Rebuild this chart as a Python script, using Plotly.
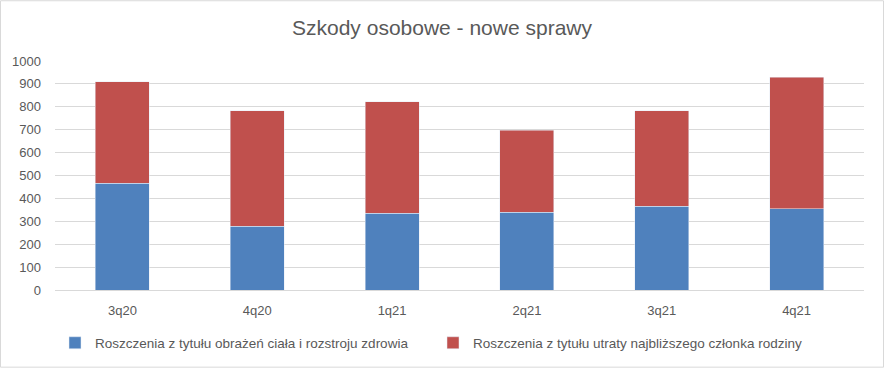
import plotly.graph_objects as go

categories = ["3q20", "4q20", "1q21", "2q21", "3q21", "4q21"]
injury = [467, 278, 336, 339, 365, 354]
family = [442, 505, 486, 358, 418, 576]
series_names = [
    "Roszczenia z tytułu obrażeń ciała i rozstroju zdrowia",
    "Roszczenia z tytułu utraty najbliższego członka rodziny",
]
tick_vals = list(range(0, 1001, 100))

fig = go.Figure()
fig.add_trace(go.Bar(x=categories, y=injury, name=series_names[0], marker_color="#4F81BD"))
fig.add_trace(go.Bar(x=categories, y=family, name=series_names[1], marker_color="#C0504D"))

font_fam = "Liberation Sans, Arial, sans-serif"
fig.update_layout(
    barmode="stack",
    bargap=0.6,
    width=884,
    height=369,
    margin=dict(l=55, r=20, t=61, b=78),
    paper_bgcolor="white",
    plot_bgcolor="white",
    font=dict(family=font_fam, color="#595959", size=13),
    title=dict(text="Szkody osobowe - nowe sprawy", x=0.5, xanchor="center", y=0.925, yanchor="middle",
               font=dict(size=21, color="#595959", family=font_fam)),
    legend=dict(orientation="h", x=0.0, xanchor="left", y=-0.226, yanchor="middle",
                font=dict(size=13.5, color="#595959"), traceorder="normal", itemwidth=30,
                entrywidth=333, entrywidthmode="pixels"),
    showlegend=True,
    xaxis=dict(showgrid=False, showline=True, linecolor="#D9D9D9", linewidth=1, ticks="",
               ticklabelstandoff=8, tickfont=dict(size=13, color="#595959")),
    yaxis=dict(range=[0, 1000], tickvals=tick_vals, showgrid=True, gridcolor="#D9D9D9", gridwidth=1,
               zeroline=False, showline=False, ticks="", ticklabelstandoff=13,
               tickfont=dict(size=13, color="#595959")),
)
fig.add_shape(type="rect", xref="paper", yref="paper", x0=-54.5/809, x1=1+19.5/809, y0=-77.5/230, y1=1+60.5/230,
              line=dict(color="#D9D9D9", width=1), fillcolor="rgba(0,0,0,0)", layer="below")
fig.write_html("out.html", config={"displayModeBar": False},
               post_script="document.body.style.margin='0';document.body.style.overflow='hidden';")
